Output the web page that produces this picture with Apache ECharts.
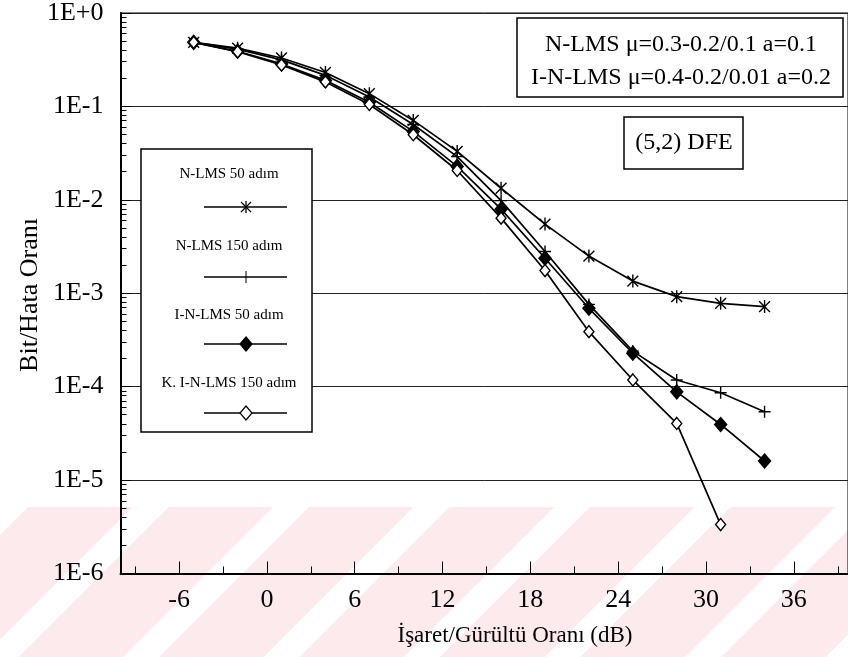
<!DOCTYPE html>
<html>
<head>
<meta charset="utf-8">
<script src="https://cdn.jsdelivr.net/npm/echarts@6/dist/echarts.min.js"></script>
<style>
html,body{margin:0;padding:0;background:#fff;}
#c{width:848px;height:657px;}
</style>
</head>
<body>
<div id="c"></div>
<script>
// ---- data ----
const snr = [-5, -2, 1, 4, 7, 10, 13, 16, 19, 22, 25, 28, 31, 34];
const nlms50 = [0.485, 0.42, 0.33, 0.231, 0.137, 0.0708, 0.033, 0.0133, 0.0055, 0.0025, 0.00135, 0.00092, 0.00078, 0.00072];
const nlms150 = [0.485, 0.41, 0.315, 0.215, 0.126, 0.064, 0.029, 0.0098, 0.0028, 0.00076, 0.00024, 0.000118, 0.000086, 0.0000538];
const inlms50 = [0.485, 0.389, 0.285, 0.19, 0.111, 0.054, 0.0228, 0.00795, 0.00237, 0.00069, 0.000228, 0.000088, 0.0000394, 0.000016];
const kinlms150 = [0.485, 0.385, 0.278, 0.183, 0.105, 0.0497, 0.0206, 0.00637, 0.00175, 0.000388, 0.000118, 0.0000404, 0.00000334];
const seriesNames = ['N-LMS 50 adım', 'N-LMS 150 adım', 'I-N-LMS 50 adım', 'K. I-N-LMS 150 adım'];
const xTicks = [-6, 0, 6, 12, 18, 24, 30, 36];
const xMinorTicks = [-9, -3, 3, 9, 15, 21, 27, 33, 39];
const yTickLabels = ['1E-6', '1E-5', '1E-4', '1E-3', '1E-2', '1E-1', '1E+0'];
const yMinorMult = [2, 3, 4, 5, 6, 7, 8, 9];
const xTitle = 'İşaret/Gürültü Oranı (dB)';
const yTitle = 'Bit/Hata Oranı';
const note1 = 'N-LMS μ=0.3-0.2/0.1 a=0.1';
const note2 = 'I-N-LMS μ=0.4-0.2/0.01 a=0.2';
const note3 = '(5,2) DFE';

const FONT = 'Liberation Serif';
const starPath = 'path://M-5,-5L5,5M-5,5L5,-5M0,-6L0,6';
const plusPath = 'path://M-6,0L6,0M0,-6L0,6';

function pairs(vals) { return vals.map((v, i) => [snr[i], v]); }

// log-space minor tick positions (for a helper value axis)
const yMinorLog = [];
for (let e = -6; e < 0; e++) {
  yMinorMult.forEach(m => yMinorLog.push(e + Math.log10(m)));
}

const chart = echarts.init(document.getElementById('c'), null, {renderer: 'canvas'});

// watermark stripes
const stripes = [];
for (let k = -6; k <= 2; k++) {
  const c0 = 572 + 140.5 * k, c1 = 572 + 140.5 * (k + 1);
  const a = c0 + 18, b = c1 - 18;
  stripes.push({
    type: 'polygon', z: -10, silent: true,
    shape: {points: [[a, 507], [b, 507], [b - 150, 657], [a - 150, 657]]},
    style: {fill: '#fdeaed'}
  });
}

function seg(x1, y1, x2, y2, w) {
  return {type: 'line', z: 102, shape: {x1: x1, y1: y1, x2: x2, y2: y2}, style: {stroke: '#000', lineWidth: w || 1.3}};
}

// legend (drawn box)
const legY = [[174, 207], [246, 277], [315, 344], [383, 413]];
const legendEls = [{
  type: 'rect', z: 100,
  shape: {x: 141, y: 149, width: 171, height: 283},
  style: {fill: '#fff', stroke: '#000', lineWidth: 1.5}
}];
legY.forEach((p, i) => {
  legendEls.push({
    type: 'text', z: 101, x: 229, y: p[0],
    style: {text: seriesNames[i], font: '15px "' + FONT + '"', fill: '#000', align: 'center', verticalAlign: 'middle'}
  });
  legendEls.push(seg(204, p[1], 287, p[1], 1.3));
  const mx = 246, my = p[1];
  if (i === 0) {
    legendEls.push(seg(mx - 5, my - 5, mx + 5, my + 5));
    legendEls.push(seg(mx - 5, my + 5, mx + 5, my - 5));
    legendEls.push(seg(mx, my - 6, mx, my + 6));
  } else if (i === 1) {
    legendEls.push(seg(mx, my - 6, mx, my + 6, 1));
  } else {
    legendEls.push({type: 'polygon', z: 102, shape: {points: [[mx, my - 7], [mx + 6, my], [mx, my + 7], [mx - 6, my]]}, style: {fill: i === 2 ? '#000' : '#fff', stroke: '#000', lineWidth: 1.2}});
  }
});

const noteEls = [
  {type: 'rect', z: 100, shape: {x: 517, y: 18, width: 326, height: 79}, style: {fill: '#fff', stroke: '#000', lineWidth: 1.5}},
  {type: 'text', z: 101, x: 681, y: 45, style: {text: note1, font: '24px "' + FONT + '"', fill: '#000', align: 'center', verticalAlign: 'middle'}},
  {type: 'text', z: 101, x: 681, y: 78, style: {text: note2, font: '24px "' + FONT + '"', fill: '#000', align: 'center', verticalAlign: 'middle'}},
  {type: 'rect', z: 100, shape: {x: 624, y: 117, width: 119, height: 52}, style: {fill: '#fff', stroke: '#000', lineWidth: 1.5}},
  {type: 'text', z: 101, x: 684, y: 143, style: {text: note3, font: '24px "' + FONT + '"', fill: '#000', align: 'center', verticalAlign: 'middle'}},
  {type: 'text', z: 101, x: 515, y: 636, style: {text: xTitle, font: '23px "' + FONT + '"', fill: '#000', align: 'center', verticalAlign: 'middle'}},
  {type: 'text', z: 101, x: 30, y: 295, rotation: Math.PI / 2, style: {text: yTitle, font: '26px "' + FONT + '"', fill: '#000', align: 'center', verticalAlign: 'middle'}}
];

function mkSeries(name, vals, symbol, size, fill) {
  return {
    name: name, type: 'line', xAxisIndex: 0, yAxisIndex: 0,
    data: pairs(vals),
    symbol: symbol, symbolSize: size, symbolKeepAspect: true,
    showAllSymbol: true,
    lineStyle: {color: '#000', width: 1.7},
    itemStyle: {color: fill, borderColor: '#000', borderWidth: 1.4},
    emphasis: {disabled: true},
    animation: false, z: 3
  };
}

const gridBox = {left: 120.5, right: 0, top: 12.8, bottom: 83.5};

const option = {
  backgroundColor: '#fff',
  animation: false,
  grid: [
    Object.assign({show: true, borderColor: '#000', borderWidth: 1, backgroundColor: 'transparent'}, gridBox),
    Object.assign({show: false}, gridBox)
  ],
  xAxis: [
    {
      type: 'value', min: -10, max: 39.7, gridIndex: 0, position: 'bottom',
      axisLine: {show: true, onZero: false, lineStyle: {color: '#000', width: 2}},
      axisTick: {show: true, inside: true, length: 12, customValues: xTicks, lineStyle: {color: '#000', width: 1}},
      axisLabel: {show: true, customValues: xTicks, margin: 14, fontSize: 26, fontFamily: FONT, color: '#000'},
      splitLine: {show: false}
    },
    {
      type: 'value', min: -10, max: 39.7, gridIndex: 1, position: 'bottom',
      axisLine: {show: false, onZero: false},
      axisTick: {show: true, inside: true, length: 7, customValues: xMinorTicks, lineStyle: {color: '#000', width: 1}},
      axisLabel: {show: false},
      splitLine: {show: false}
    }
  ],
  yAxis: [
    {
      type: 'log', logBase: 10, min: 1e-6, max: 1, interval: 1, gridIndex: 0, position: 'left',
      axisLine: {show: true, onZero: false, lineStyle: {color: '#000', width: 2}},
      axisTick: {show: true, inside: true, length: 10, lineStyle: {color: '#000'}},
      axisLabel: {
        show: true, margin: 17, fontSize: 26, fontFamily: FONT, color: '#000',
        formatter: function (v) {
          const e = Math.round(Math.log10(v));
          return yTickLabels[e + 6];
        }
      },
      splitLine: {show: true, lineStyle: {color: '#222', width: 1}}
    },
    {
      type: 'value', min: -6, max: 0, gridIndex: 1, position: 'left',
      axisLine: {show: false, onZero: false},
      axisTick: {show: true, inside: true, length: 6, customValues: yMinorLog, lineStyle: {color: '#000'}},
      axisLabel: {show: false},
      splitLine: {show: false}
    }
  ],
  graphic: {elements: stripes.concat(legendEls, noteEls)},
  series: [
    mkSeries(seriesNames[0], nlms50, starPath, 13, '#000'),
    mkSeries(seriesNames[1], nlms150, plusPath, 12, '#000'),
    mkSeries(seriesNames[2], inlms50, 'diamond', [12, 14], '#000'),
    mkSeries(seriesNames[3], kinlms150, 'diamond', [10, 12], '#fff')
  ]
};
chart.setOption(option);
</script>
</body>
</html>
